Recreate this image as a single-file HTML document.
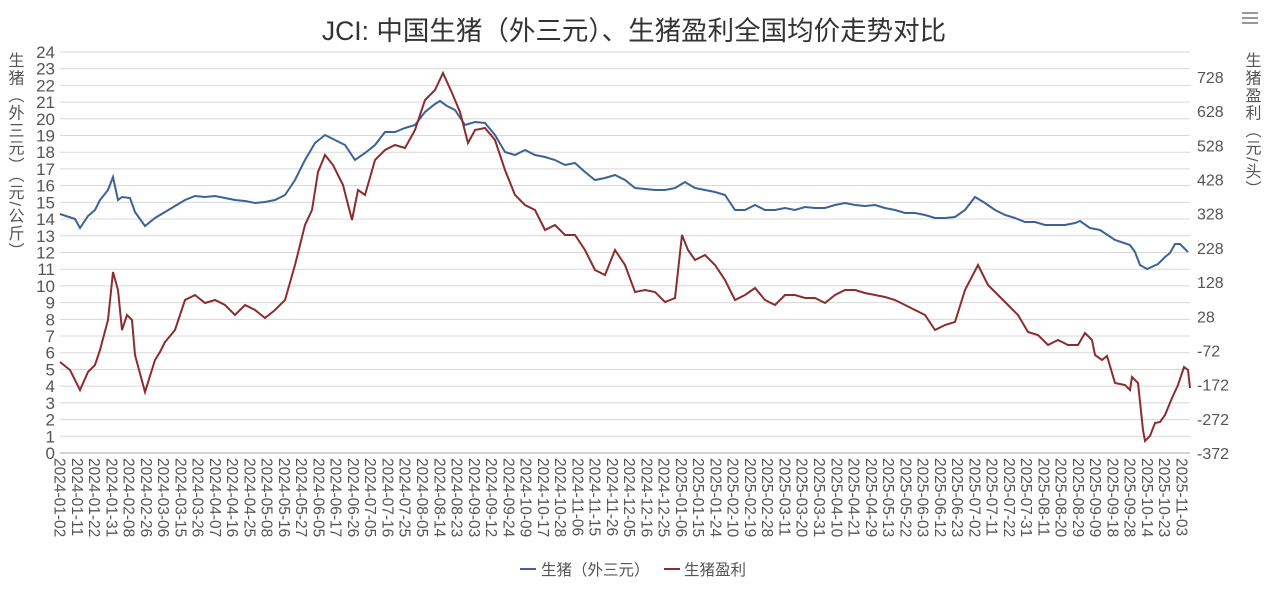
<!DOCTYPE html>
<html><head><meta charset="utf-8"><style>
body{margin:0;background:#fff;width:1266px;height:585px;overflow:hidden;font-family:"Liberation Sans","Noto Sans CJK SC",sans-serif;}
</style></head><body>
<svg width="1266" height="585" xmlns="http://www.w3.org/2000/svg" font-family="Liberation Sans, Noto Sans CJK SC, sans-serif">
<text x="634" y="40" text-anchor="middle" font-size="26.5" fill="#333">JCI: 中国生猪（外三元）、生猪盈利全国均价走势对比</text>
<g stroke="#999" stroke-width="2"><line x1="1242" y1="13" x2="1258" y2="13"/><line x1="1242" y1="18" x2="1258" y2="18"/><line x1="1242" y1="23" x2="1258" y2="23"/></g>
<g id="grid" stroke="#d8d8d8" stroke-width="1"></g>
<g id="yl" font-size="17" fill="#555" text-anchor="end"></g>
<g id="yr" font-size="16" fill="#555"></g>
<g id="xl" font-size="15.5" fill="#555"></g>
<text font-size="16" fill="#555" writing-mode="tb" x="14" y="52" letter-spacing="1.5">生猪（外三元）（元/公斤）</text>
<text font-size="16" fill="#555" writing-mode="tb" x="1251" y="52" letter-spacing="1.5">生猪盈利（元/头）</text>
<polyline fill="none" stroke="#3b6396" stroke-width="2" points="60,214 75,219 80,228 88,216 95,210 100,200 108,190 113,177 118,200 122,197 130,198 135,212 145,226 155,218 165,212 175,206 185,200 195,196 205,197 215,196 225,198 235,200 245,201 255,203 265,202 275,200 285,195 295,180 305,160 315,143 325,135 335,140 345,145 355,160 365,153 375,145 385,132 395,132 405,128 415,125 425,112 435,104 440,101 447,106 455,110 465,125 475,122 485,123 495,135 505,152 515,155 525,150 535,155 545,157 555,160 565,165 575,163 585,172 595,180 605,178 615,175 625,180 635,188 645,189 655,190 665,190 675,188 685,182 695,188 705,190 715,192 725,195 735,210 745,210 755,205 765,210 775,210 785,208 795,210 805,207 815,208 825,208 835,205 845,203 855,205 865,206 875,205 885,208 895,210 905,213 915,213 925,215 935,218 945,218 955,217 965,210 975,197 985,203 995,210 1005,215 1015,218 1025,222 1035,222 1045,225 1055,225 1065,225 1075,223 1080,221 1090,228 1100,230 1115,240 1130,245 1135,252 1140,265 1147,269 1158,264 1165,257 1170,253 1175,244 1180,244 1188,252"/>
<polyline fill="none" stroke="#8b2d2d" stroke-width="2" points="60,362 70,370 80,390 88,372 95,365 100,350 108,320 113,272 118,290 122,330 127,315 132,320 135,355 145,392 155,360 160,352 165,342 175,330 185,300 195,295 205,303 215,300 225,305 235,315 245,305 255,310 265,318 275,310 285,300 295,265 305,225 312,210 318,172 325,155 333,165 343,185 352,220 358,190 365,195 375,160 385,150 395,145 405,148 415,130 425,100 435,90 443,73 452,93 460,112 468,143 475,130 485,128 495,140 505,170 515,195 525,205 535,210 545,230 555,225 565,235 575,235 585,250 595,270 605,275 615,250 625,265 635,292 645,290 655,292 665,302 675,298 682,235 688,250 695,260 705,255 715,265 725,280 735,300 745,295 755,288 765,300 775,305 785,295 795,295 805,298 815,298 825,303 835,295 845,290 855,290 865,293 875,295 885,297 895,300 905,305 915,310 925,315 935,330 945,325 955,322 965,290 978,265 988,285 998,295 1008,305 1018,315 1028,332 1038,335 1048,345 1058,340 1068,345 1078,345 1085,333 1092,340 1095,355 1102,360 1107,356 1115,383 1125,385 1130,390 1132,377 1138,383 1143,430 1145,441 1150,436 1155,423 1160,422 1165,415 1172,398 1178,385 1184,367 1188,370 1190,388"/>
<line x1="520" y1="569" x2="536" y2="569" stroke="#3b6396" stroke-width="2"/>
<text x="541" y="575" font-size="15.5" fill="#555">生猪（外三元）</text>
<line x1="664" y1="569" x2="680" y2="569" stroke="#8b2d2d" stroke-width="2"/>
<text x="684" y="575" font-size="15.5" fill="#555">生猪盈利</text>
</svg>
<script>
var ns="http://www.w3.org/2000/svg";
function el(p,t,a,txt){var e=document.createElementNS(ns,t);for(var k in a)e.setAttribute(k,a[k]);if(txt!==undefined)e.textContent=txt;document.getElementById(p).appendChild(e);}
for(var i=0;i<=24;i++){var y=453-i*16.71;el('grid','line',{x1:60,x2:1190,y1:y,y2:y,stroke:i==0?'#aaa':'#d8d8d8'});el('yl','text',{x:55,y:y+6},i);}
for(var j=0;j<12;j++){var v=-372+j*100;var y=453-j*34.18;el('yr','text',{x:1197,y:y+6},v);}
var d=["2024-01-02","2024-01-11","2024-01-22","2024-01-31","2024-02-08","2024-02-26","2024-03-06","2024-03-15","2024-03-26","2024-04-07","2024-04-16","2024-04-25","2024-05-08","2024-05-16","2024-05-27","2024-06-05","2024-06-17","2024-06-26","2024-07-05","2024-07-16","2024-07-25","2024-08-05","2024-08-14","2024-08-23","2024-09-03","2024-09-12","2024-09-24","2024-10-09","2024-10-17","2024-10-28","2024-11-06","2024-11-15","2024-11-26","2024-12-05","2024-12-16","2024-12-25","2025-01-06","2025-01-15","2025-01-24","2025-02-10","2025-02-19","2025-02-28","2025-03-11","2025-03-20","2025-03-31","2025-04-10","2025-04-21","2025-04-29","2025-05-13","2025-05-22","2025-06-03","2025-06-12","2025-06-23","2025-07-02","2025-07-11","2025-07-22","2025-07-31","2025-08-11","2025-08-20","2025-08-29","2025-09-09","2025-09-18","2025-09-28","2025-10-14","2025-10-23","2025-11-03"];
var n=d.length, step=(1182-60)/(n-1);
for(var k=0;k<n;k++){var x=60+k*step;el('xl','text',{x:0,y:0,transform:'translate('+(x-5.5)+',458) rotate(90)'},d[k]);}
</script>
</body></html>
